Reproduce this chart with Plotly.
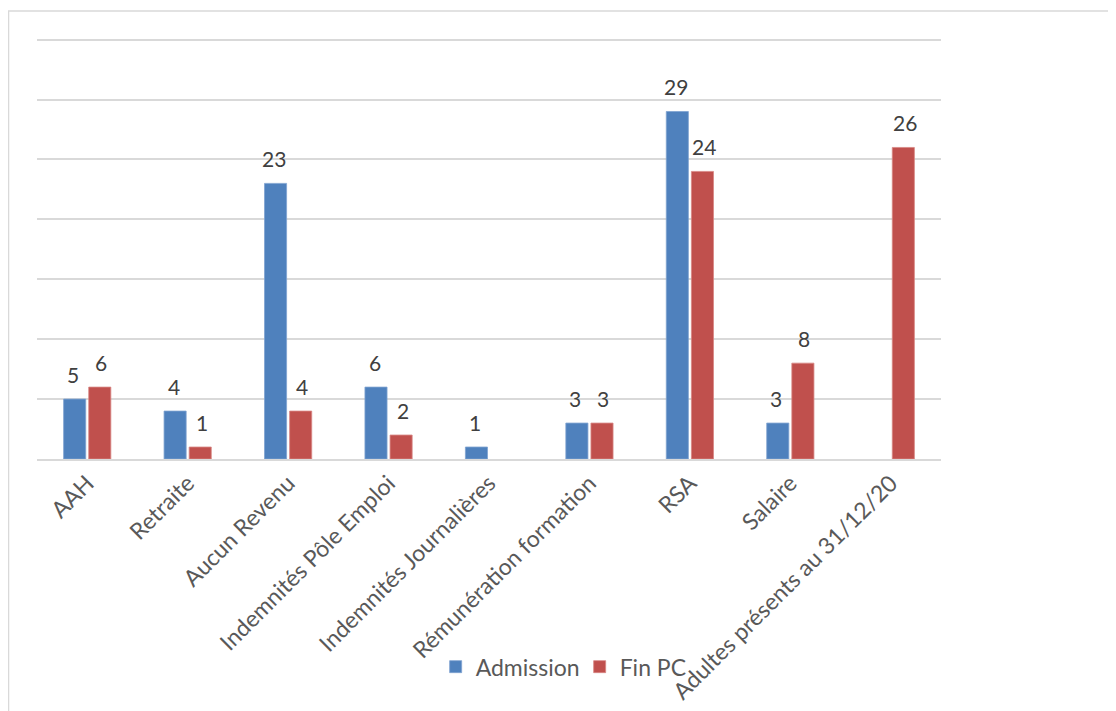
import plotly.graph_objects as go

categories = ["AAH", "Retraite", "Aucun Revenu", "Indemnités Pôle Emploi",
              "Indemnités Journalières", "Rémunération formation", "RSA",
              "Salaire", "Adultes présents au 31/12/20"]
admission = [5, 4, 23, 6, 1, 3, 29, 3, None]
fin_pc = [6, 1, 4, 2, None, 3, 24, 8, 26]

BLUE = "#4F81BD"
RED = "#C0504D"
FONT = "Lato"

fig = go.Figure()
fig.add_trace(go.Bar(x=categories, y=admission, name="Admission",
                     marker=dict(color=BLUE, line=dict(color="#7FA2D0", width=0.8))))
fig.add_trace(go.Bar(x=categories, y=fin_pc, name="Fin PC",
                     marker=dict(color=RED, line=dict(color="#D88784", width=0.8))))

annotations = []
for series, shift in ((admission, -14), (fin_pc, 14)):
    for cat, v in zip(categories, series):
        if v is None:
            continue
        annotations.append(dict(x=cat, y=v, xref="x", yref="y", text=str(v),
                                showarrow=False, xshift=shift, yshift=25,
                                yanchor="middle",
                                font=dict(family=FONT, size=21, color="#404040")))

fig.update_layout(
    width=1116, height=711,
    margin=dict(l=29, r=183, t=28, b=260),
    paper_bgcolor="white", plot_bgcolor="white",
    barmode="group", bargap=0.5, bargroupgap=0.12,
    font=dict(family=FONT, color="#595959", size=23),
    showlegend=True,
    legend=dict(orientation="h", x=0.441, y=-0.491, xanchor="left", yanchor="middle",
                font=dict(family=FONT, size=23, color="#595959"),
                bgcolor="rgba(0,0,0,0)", itemwidth=30,
                entrywidth=99, entrywidthmode="pixels"),
    annotations=annotations,
    shapes=[dict(type="rect", xref="paper", yref="paper",
                 x0=-0.0315, x1=1.3, y0=-0.8, y1=1.059,
                 line=dict(color="#D9D9D9", width=1.5), layer="below")],
)
fig.update_yaxes(range=[0, 35.3], tickvals=[0, 5, 10, 15, 20, 25, 30, 35],
                 showticklabels=False, showgrid=True,
                 gridcolor="#D9D9D9", gridwidth=1.5, zeroline=False, showline=False,
                 fixedrange=True)
fig.update_xaxes(tickangle=-45, showline=True, linecolor="#D9D9D9", linewidth=1.5,
                 showgrid=False, ticks="", tickfont=dict(family=FONT, size=23, color="#595959"),
                 fixedrange=True)

fig.write_html("out.html")
